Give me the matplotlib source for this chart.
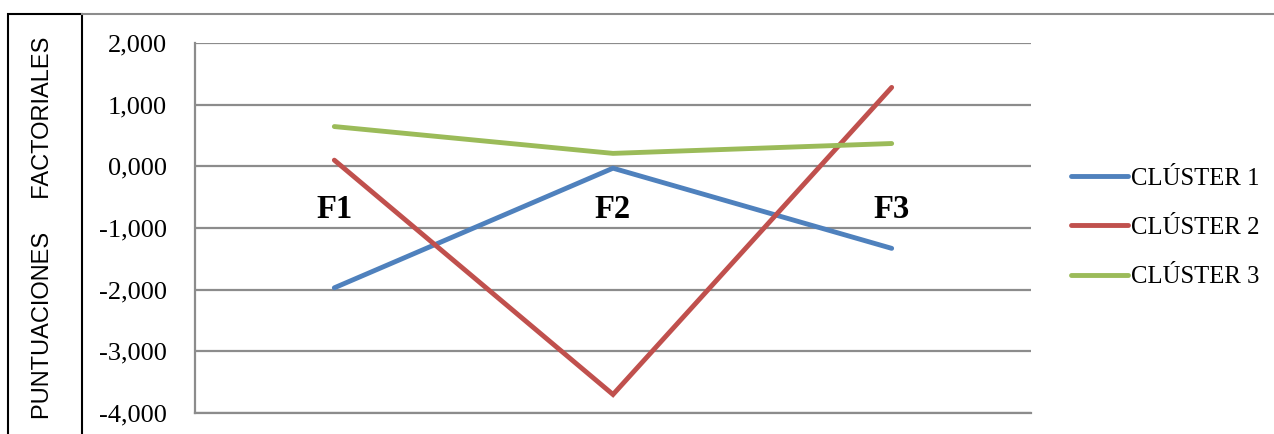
import matplotlib.pyplot as plt
from matplotlib.lines import Line2D
from matplotlib.patches import Rectangle

factores = ['F1', 'F2', 'F3']
cluster1 = [-1.97, -0.03, -1.33]
cluster2 = [0.10, -3.70, 1.28]
cluster3 = [0.645, 0.21, 0.37]
series = ['CLÚSTER 1', 'CLÚSTER 2', 'CLÚSTER 3']
colores = ['#4F81BD', '#C0504D', '#9BBB59']
yticks = [2, 1, 0, -1, -2, -3, -4]

W, H = 1274, 434
fig = plt.figure(figsize=(W / 100, H / 100), dpi=100)
ax = fig.add_axes([195 / W, 21 / H, 836 / W, 370 / H])

x = range(len(factores))
for vals, nombre, c in zip([cluster1, cluster2, cluster3], series, colores):
    ax.plot(x, vals, color=c, lw=3.5, solid_capstyle='round',
            solid_joinstyle='miter', label=nombre, zorder=3)

# etiquetas de los factores dentro del área
for i, f in enumerate(factores):
    ax.text(i, -0.70, f, ha='center', va='center', fontsize=23.5,
            fontweight='bold', family='Liberation Serif', zorder=4)

ax.set_xlim(-0.5, len(factores) - 0.5)
ax.set_ylim(-4, 2)
ax.set_yticks(yticks)
ax.set_yticklabels([f'{v:.3f}'.replace('.', ',') for v in yticks],
                   family='Liberation Serif', fontsize=19)
ax.set_xticks([])
ax.tick_params(axis='y', length=0, pad=20)
ax.grid(axis='y', color='#8c8c8c', lw=1.6)
ax.set_axisbelow(True)
for s in ['top', 'right']:
    ax.spines[s].set_visible(False)
for s in ['left', 'bottom']:
    ax.spines[s].set_color('#8c8c8c')
    ax.spines[s].set_linewidth(1.6)

fig.legend(loc='center left', bbox_to_anchor=(1071 / W, 1 - 228 / H),
           frameon=False, borderpad=0, borderaxespad=0, handlelength=2.3,
           handletextpad=0.12, labelspacing=1.08,
           prop={'family': 'Liberation Serif', 'size': 17.8})

# recuadro del título del eje y línea superior
fig.add_artist(Line2D([82 / W, 1], [1 - 13.5 / H] * 2, color='#8c8c8c', lw=1.5))
fig.add_artist(Rectangle((8 / W, -0.05), 74 / W, 1.05 - 14.5 / H,
                         fill=False, edgecolor='black', lw=1.5))
fig.text(43.5 / W, 1 - 227.5 / H, 'PUNTUACIONES     FACTORIALES',
         rotation=90, ha='center', va='center', fontsize=17,
         family='Liberation Sans')

fig.savefig('out.png', dpi=100)
